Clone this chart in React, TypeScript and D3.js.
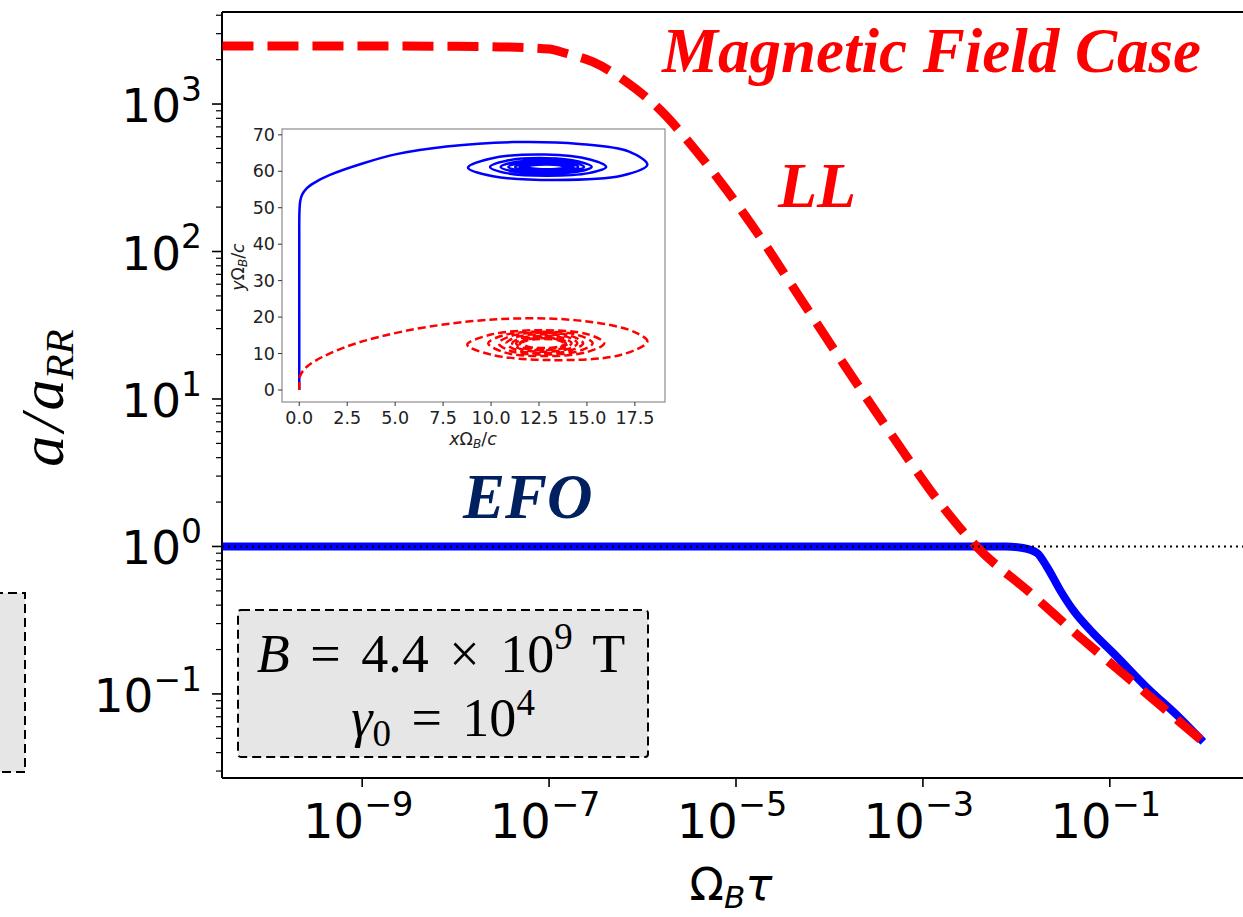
import React from 'react';
import * as d3 from 'd3';

const W = 1243;
const H = 917;

// ---- Main chart data (Ω_B τ vs a/a_RR) ----
const llX = [3.2e-11, 1e-9, 1e-8, 3e-8, 1e-7, 1.48e-7, 2.95e-7, 6.76e-7, 1.55e-6, 3.47e-6, 7.94e-6, 1.82e-5, 4.07e-5, 1.4e-4, 4.8e-4, 1.64e-3, 3.8e-3, 1.41e-2, 4.79e-2, 0.166, 1];
const llY = [2470, 2470, 2468, 2440, 2360, 2218, 1928, 1409, 910, 511, 261, 125, 57.4, 17.5, 5.52, 1.85, 0.99, 0.484, 0.243, 0.1245, 0.0473];
const efoX = [3.2e-11, 1e-6, 7.6e-3, 1.175e-2, 1.663e-2, 2.128e-2, 2.93e-2, 4.04e-2, 6.61e-2, 0.1084, 0.251, 0.562, 1];
const efoY = [1, 1, 1, 0.977, 0.903, 0.726, 0.507, 0.371, 0.259, 0.19, 0.11, 0.0687, 0.0473];
const refLevel = 1;
const xTickExps = [-9, -7, -5, -3, -1];
const yTickExps = [-1, 0, 1, 2, 3];

// ---- Inset data (x Ω_B/c vs y Ω_B/c), trajectories ----
const efoTrajX = [0, 0, 0, 0.01, 0.05, 0.15, 0.4, 0.8, 1.6, 3.34, 5.07, 7.68, 11.16, 14.6, 17.2,
  18.15, 16.8, 13.4, 10.1, 8.8, 9.95, 12.8, 15.16,
  16.0, 15.09, 12.9, 10.81, 9.95, 10.81, 12.9, 14.56,
  15.25, 14.56, 12.9, 11.2, 10.5, 11.2, 12.9, 14.28,
  14.85, 14.28, 12.9, 11.49, 10.9, 11.49, 12.9, 14.07,
  14.55, 14.07, 12.9, 11.73, 11.25, 11.73, 12.9, 13.89,
  14.3, 13.89, 12.9, 11.91, 11.5, 11.91, 12.9, 13.75,
  14.1, 13.75, 12.9, 12.05, 11.7, 12.05, 12.9, 13.64,
  13.95, 13.64, 12.9, 12.16, 11.85, 12.16, 12.9, 13.57, 13.85];
const efoTrajY = [0, 20, 40, 49, 51.8, 53.6, 55.4, 56.9, 59.0, 62.2, 64.7, 66.8, 68.0, 67.5, 65.4,
  61.8, 58.75, 57.6, 58.65, 61.0, 63.45, 64.6, 63.25,
  61.2, 59.5, 58.8, 59.5, 61.2, 62.9, 63.6, 62.68,
  61.2, 59.93, 59.4, 59.93, 61.2, 62.47, 63.0, 62.33,
  61.2, 60.21, 59.8, 60.21, 61.2, 62.19, 62.6, 62.08,
  61.2, 60.42, 60.1, 60.42, 61.2, 61.98, 62.3, 61.91,
  61.2, 60.56, 60.3, 60.56, 61.2, 61.84, 62.1, 61.78,
  61.2, 60.67, 60.45, 60.67, 61.2, 61.73, 61.95, 61.7,
  61.2, 60.74, 60.55, 60.74, 61.2, 61.66, 61.85, 61.66, 61.2];
const llTrajX = [0, 0, 0.03, 0.3, 0.9, 2.47, 4.2, 6.8, 10.3, 13.8, 16.4, 17.6,
  18.15, 16.75, 13.0, 10.0, 8.76, 10.0, 12.7, 15.1,
  15.9, 14.96, 12.7, 10.69, 9.85, 10.69, 12.7, 14.54,
  15.3, 14.54, 12.7, 11.07, 10.4, 11.07, 12.7, 14.18,
  14.8, 14.18, 12.7, 11.36, 10.8, 11.36, 12.7, 13.97,
  14.5, 13.97, 12.7, 11.57, 11.1, 11.57, 12.7, 13.76,
  14.2, 13.76, 12.7, 11.71, 11.3, 11.71, 12.7, 13.62,
  14.0, 13.62, 12.7, 11.85, 11.5, 11.85, 12.7, 13.55,
  13.9, 13.55, 12.7, 11.92, 11.6, 11.92, 12.7, 13.5, 13.85];
const llTrajY = [0, 1.5, 3.7, 5.9, 8.2, 11.9, 14.6, 17.4, 19.4, 19.4, 17.6, 15.6,
  13.3, 9.6, 8.2, 9.7, 12.4, 15.2, 16.4, 15.2,
  12.8, 10.33, 9.3, 10.33, 12.8, 15.06, 16.0, 15.06,
  12.8, 10.61, 9.7, 10.61, 12.8, 14.85, 15.7, 14.85,
  12.8, 10.89, 10.1, 10.89, 12.8, 14.57, 15.3, 14.57,
  12.8, 11.17, 10.5, 11.17, 12.8, 14.28, 14.9, 14.28,
  12.8, 11.46, 10.9, 11.46, 12.8, 14.0, 14.5, 14.0,
  12.8, 11.67, 11.2, 11.67, 12.8, 13.79, 14.2, 13.79,
  12.8, 11.88, 11.5, 11.88, 12.8, 13.65, 14.0, 13.65, 12.8];
const insetXTicks = [0, 2.5, 5, 7.5, 10, 12.5, 15, 17.5];
const insetYTicks = [0, 10, 20, 30, 40, 50, 60, 70];

const zip = (a: number[], b: number[]) => a.map((v, i) => [v, b[i]] as [number, number]);

const SANS = 'DejaVu Sans';
const SERIF = 'Liberation Serif';

function Pow10({ x, y, exp, anchor, size }: { x: number; y: number; exp: number; anchor: string; size: number }) {
  const e = exp < 0 ? '\u2212' + String(-exp) : String(exp);
  return (
    <text x={x} y={y} textAnchor={anchor} fontFamily={SANS} fontSize={size} fill="#000">
      <tspan>10</tspan>
      <tspan dy={-0.45 * size} fontSize={size * 0.7}>{e}</tspan>
    </text>
  );
}

export default function App() {
  // main scales
  const x = d3.scaleLog().domain([Math.pow(10, -10.5), Math.pow(10, 0.5)]).range([222, 1250]);
  const y = d3.scaleLog().domain([Math.pow(10, -1.57), Math.pow(10, 3.624)]).range([778, 12]);
  const line = d3.line<[number, number]>().x(d => x(d[0])).y(d => y(d[1])).curve(d3.curveMonotoneX);

  const [xl, xr] = x.range();
  const [yb, yt] = y.range();

  const yMinor: number[] = [];
  for (let k = -2; k <= 3; k++) {
    for (let m = 2; m <= 9; m++) {
      const v = m * Math.pow(10, k);
      if (v >= y.domain()[0] && v <= y.domain()[1]) yMinor.push(v);
    }
  }

  // inset scales
  const ix = d3.scaleLinear().domain([-0.9, 19.07]).range([282, 665]);
  const iy = d3.scaleLinear().domain([-3.3, 71.6]).range([402, 129]);
  const trajLine = d3.line<[number, number]>().x(d => ix(d[0])).y(d => iy(d[1])).curve(d3.curveCatmullRom.alpha(0.5));

  return (
    <svg width={W} height={H} style={{ position: 'absolute', left: 0, top: 0, background: '#fff' }}>
      <rect x={0} y={0} width={W} height={H} fill="#fff" />

      {/* partial box at left edge */}
      <rect x={-20} y={593} width={45} height={179} fill="#e6e6e6" stroke="#000" strokeWidth={2} strokeDasharray="9 5" />

      {/* spines */}
      <line x1={xl} y1={yt} x2={W + 10} y2={yt} stroke="#000" strokeWidth={2} />
      <line x1={xl} y1={yb} x2={W + 10} y2={yb} stroke="#000" strokeWidth={2} />
      <line x1={xr} y1={yt} x2={xr} y2={yb} stroke="#000" strokeWidth={2} />
      <line x1={xl} y1={yt} x2={xl} y2={yb} stroke="#000" strokeWidth={2} />

      {/* y ticks */}
      {yTickExps.map(e => (
        <g key={'ym' + e}>
          <line x1={xl - 10} x2={xl} y1={y(Math.pow(10, e))} y2={y(Math.pow(10, e))} stroke="#000" strokeWidth={1.6} />
          <Pow10 x={202} y={y(Math.pow(10, e)) + 18} exp={e} anchor="end" size={47} />
        </g>
      ))}
      {yMinor.map((v, i) => (
        <line key={'yn' + i} x1={xl - 6} x2={xl} y1={y(v)} y2={y(v)} stroke="#000" strokeWidth={1.2} />
      ))}

      {/* x ticks */}
      {xTickExps.map(e => (
        <g key={'xm' + e}>
          <line x1={x(Math.pow(10, e))} x2={x(Math.pow(10, e))} y1={yb} y2={yb + 9} stroke="#000" strokeWidth={1.6} />
          <Pow10 x={x(Math.pow(10, e)) - 4} y={838} exp={e} anchor="middle" size={48} />
        </g>
      ))}

      {/* axis labels */}
      <text x={731} y={900} textAnchor="middle" fontFamily={SANS} fontSize={45} fill="#000">
        <tspan>Ω</tspan>
        <tspan fontStyle="italic" fontSize={31} dy={8}>B</tspan>
        <tspan fontStyle="italic" dy={-8}>τ</tspan>
      </text>
      <text transform="translate(63,398) rotate(-90)" textAnchor="middle" fontFamily={SERIF} fontStyle="italic" fontSize={62} fill="#000">
        <tspan>a</tspan>
        <tspan dx={4}>/</tspan>
        <tspan dx={4}>a</tspan>
        <tspan fontSize={41} dy={10}>RR</tspan>
      </text>

      {/* curves */}
      <path d={line(zip(efoX, efoY)) || ''} fill="none" stroke="#0000ff" strokeWidth={8} strokeLinejoin="round" />
      <path d={line(zip(llX, llY)) || ''} fill="none" stroke="#ff0000" strokeWidth={9} strokeDasharray="31 14" />
      <line x1={xl} x2={W + 10} y1={y(refLevel)} y2={y(refLevel)} stroke="#000" strokeWidth={2} strokeDasharray="2 4" />

      {/* annotations */}
      <text x={662} y={72} fontFamily={SERIF} fontWeight="bold" fontStyle="italic" fontSize={63} fill="#ff0000">Magnetic Field Case</text>
      <text x={778} y={207} fontFamily={SERIF} fontWeight="bold" fontStyle="italic" fontSize={64} fill="#ff0000">LL</text>
      <text x={463} y={518} fontFamily={SERIF} fontWeight="bold" fontStyle="italic" fontSize={63} fill="#002060">EFO</text>

      {/* parameter box */}
      <rect x={238} y={610} width={410} height={147} rx={3} fill="#e6e6e6" stroke="#000" strokeWidth={2} strokeDasharray="9 5" />
      <text x={441} y={672} textAnchor="middle" fontFamily={SERIF} fontSize={54} fill="#000" wordSpacing={7}>
        <tspan fontStyle="italic">B</tspan>
        <tspan> = 4.4 × 10</tspan>
        <tspan fontSize={37} dy={-23}>9</tspan>
        <tspan dy={23}> T</tspan>
      </text>
      <text x={443} y={736} textAnchor="middle" fontFamily={SERIF} fontSize={54} fill="#000" wordSpacing={7}>
        <tspan fontStyle="italic">γ</tspan>
        <tspan fontSize={37} dy={10}>0</tspan>
        <tspan dy={-10}> = 10</tspan>
        <tspan fontSize={37} dy={-21}>4</tspan>
      </text>

      {/* inset */}
      <g>
        <rect x={282} y={129} width={383} height={273} fill="#fff" stroke="#8c8c8c" strokeWidth={1.2} />
        {insetYTicks.map(t => (
          <g key={'iy' + t}>
            <line x1={278} x2={282} y1={iy(t)} y2={iy(t)} stroke="#333" strokeWidth={1} />
            <text x={275} y={iy(t) + 6} textAnchor="end" fontFamily={SANS} fontSize={17.5} fill="#222">{t}</text>
          </g>
        ))}
        {insetXTicks.map(t => (
          <g key={'ix' + t}>
            <line x1={ix(t)} x2={ix(t)} y1={402} y2={406} stroke="#333" strokeWidth={1} />
            <text x={ix(t)} y={424} textAnchor="middle" fontFamily={SANS} fontSize={17.5} fill="#222">{t.toFixed(1)}</text>
          </g>
        ))}
        <text x={473} y={445} textAnchor="middle" fontFamily={SANS} fontSize={17.5} fill="#222">
          <tspan fontStyle="italic">x</tspan>
          <tspan>Ω</tspan>
          <tspan fontStyle="italic" fontSize={12} dy={3}>B</tspan>
          <tspan dy={-3}>/</tspan>
          <tspan fontStyle="italic">c</tspan>
        </text>
        <text transform="translate(244,267) rotate(-90)" textAnchor="middle" fontFamily={SANS} fontSize={17.5} fill="#222">
          <tspan fontStyle="italic">y</tspan>
          <tspan>Ω</tspan>
          <tspan fontStyle="italic" fontSize={12} dy={3}>B</tspan>
          <tspan dy={-3}>/</tspan>
          <tspan fontStyle="italic">c</tspan>
        </text>
        <path d={trajLine(zip(efoTrajX, efoTrajY)) || ''} fill="none" stroke="#0000ff" strokeWidth={2.5} />
        <path d={trajLine(zip(llTrajX, llTrajY)) || ''} fill="none" stroke="#ff0000" strokeWidth={2.5} strokeDasharray="8 4" />
      </g>
    </svg>
  );
}
